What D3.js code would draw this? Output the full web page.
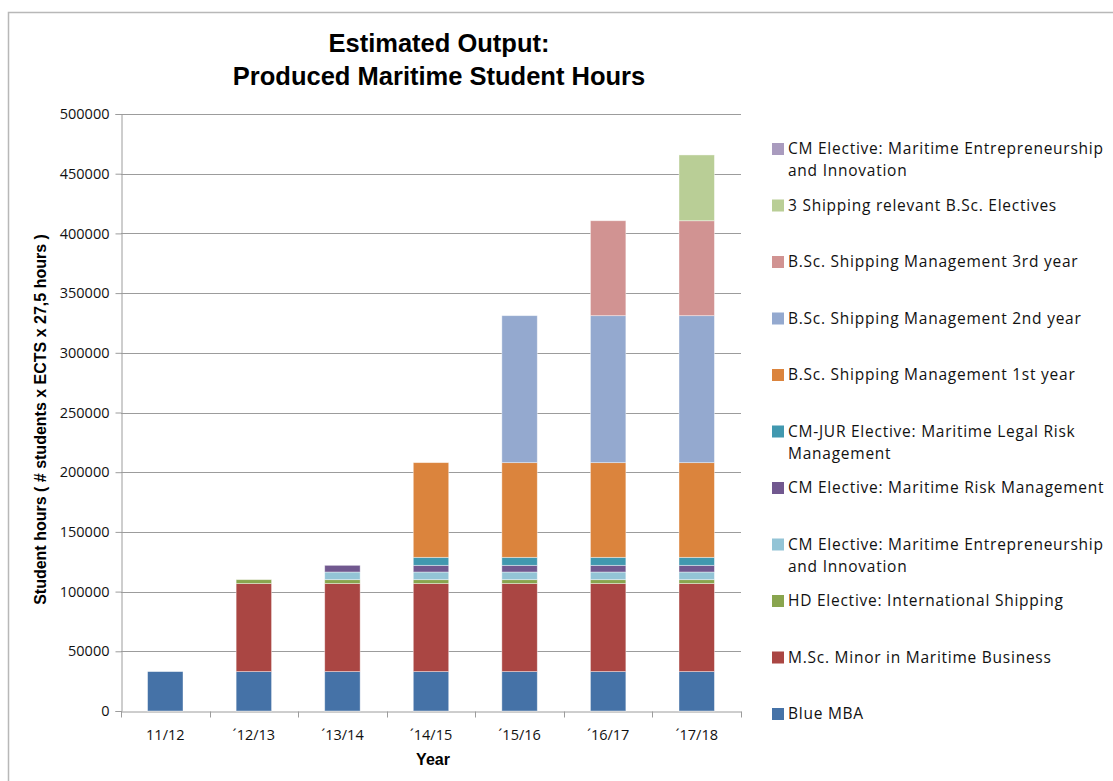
<!DOCTYPE html>
<html lang="en">
  <head>
    <meta charset="utf-8" />
    <title>Estimated Output: Produced Maritime Student Hours</title>
    <script src="https://d3js.org/d3.v7.min.js"></script>
    <style>
      body { margin: 0; background: #fff; }
    </style>
  </head>
  <body>
    <div id="root"></div>
  <script>
// data
const years = ["11/12", "\u00B412/13", "\u00B413/14", "\u00B414/15", "\u00B415/16", "\u00B416/17", "\u00B417/18"]

const blueMBA      = [33000, 33000, 33000, 33000, 33000, 33000, 33000]
const mscMinor     = [0, 73700, 73700, 73700, 73700, 73700, 73700]
const hdShipping   = [0, 3300, 3300, 3300, 3300, 3300, 3300]
const cmEntrepr    = [0, 0, 6400, 6400, 6400, 6400, 6400]
const cmRisk       = [0, 0, 5600, 5600, 5600, 5600, 5600]
const cmJurLegal   = [0, 0, 0, 6700, 6700, 6700, 6700]
const bsc1st       = [0, 0, 0, 79300, 79300, 79300, 79300]
const bsc2nd       = [0, 0, 0, 0, 123100, 123100, 123100]
const bsc3rd       = [0, 0, 0, 0, 0, 79500, 79500]
const bscElectives = [0, 0, 0, 0, 0, 0, 55100]
const cmEntrepr2   = [0, 0, 0, 0, 0, 0, 0]

const seriesNames = [
  "Blue MBA",
  "M.Sc. Minor in Maritime Business",
  "HD Elective: International Shipping",
  "CM Elective: Maritime Entrepreneurship and Innovation",
  "CM Elective: Maritime Risk Management",
  "CM-JUR Elective: Maritime Legal Risk Management",
  "B.Sc. Shipping Management 1st year",
  "B.Sc. Shipping Management 2nd year",
  "B.Sc. Shipping Management 3rd year",
  "3 Shipping relevant B.Sc. Electives",
  "CM Elective: Maritime Entrepreneurship and Innovation"
]
// legend line breaks as in the picture
const legendLines = [
  ["Blue MBA"],
  ["M.Sc. Minor in Maritime Business"],
  ["HD Elective: International Shipping"],
  ["CM Elective: Maritime Entrepreneurship", "and Innovation"],
  ["CM Elective: Maritime Risk Management"],
  ["CM-JUR Elective: Maritime Legal Risk", "Management"],
  ["B.Sc. Shipping Management 1st year"],
  ["B.Sc. Shipping Management 2nd year"],
  ["B.Sc. Shipping Management 3rd year"],
  ["3 Shipping relevant B.Sc. Electives"],
  ["CM Elective: Maritime Entrepreneurship", "and Innovation"]
]
const seriesValues = [blueMBA, mscMinor, hdShipping, cmEntrepr, cmRisk, cmJurLegal,
                      bsc1st, bsc2nd, bsc3rd, bscElectives, cmEntrepr2]
const colors = ["#4572A7", "#AA4643", "#89A54E", "#93C4D6", "#71588F", "#4198AF",
                "#DB843D", "#94A9CF", "#D19392", "#B9CE96", "#A99BBE"]
const yTicks = [0, 50000, 100000, 150000, 200000, 250000, 300000, 350000, 400000, 450000, 500000]

const width = 1113, height = 781
const margin = {left: 121, right: 372, top: 114, bottom: 70}
const font = "'Open Sans', 'DejaVu Sans', sans-serif"
const boldFont = "'Liberation Sans Narrow', 'Liberation Sans', sans-serif"

const rows = years.map((y, i) => {
  const r = {year: y}
  seriesValues.forEach((s, k) => r["s" + k] = s[i])
  return r
})
const keys = seriesValues.map((s, k) => "s" + k)

const x = d3.scaleBand()
    .domain(years)
    .range([margin.left, width - margin.right])
    .paddingInner(0.6)
    .paddingOuter(0.3)

const y = d3.scaleLinear()
    .domain([0, 500000])
    .range([height - margin.bottom, margin.top])

const stack = d3.stack().keys(keys)(rows)

const svg = d3.select("#root").append("svg")
    .attr("width", width)
    .attr("height", height)
    .attr("font-family", font)

// chart border
svg.append("rect")
    .attr("x", 8.5).attr("y", 12.5)
    .attr("width", width + 10).attr("height", height + 10)
    .attr("fill", "none")
    .attr("stroke", "#b8b8b8")
    .attr("stroke-width", 1.5)

// gridlines
svg.append("g")
  .selectAll("line")
  .data(yTicks.slice(1))
  .join("line")
    .attr("x1", margin.left).attr("x2", width - margin.right)
    .attr("y1", d => Math.round(y(d)) + 0.5).attr("y2", d => Math.round(y(d)) + 0.5)
    .attr("stroke", "#9c9c9c")

// y axis
const yAxis = svg.append("g")
    .attr("transform", `translate(${margin.left + 0.5},0)`)
    .call(d3.axisLeft(y).tickValues(yTicks).tickFormat(d3.format("d")).tickSize(6).tickPadding(6))
yAxis.select(".domain").attr("stroke", "#9c9c9c")
yAxis.selectAll(".tick line").attr("stroke", "#9c9c9c")
yAxis.selectAll("text").attr("font-size", 14.5).attr("font-family", font).attr("fill", "#111")

// x axis with boundary ticks
const xAxis = svg.append("g")
    .attr("transform", `translate(0,${height - margin.bottom + 0.5})`)
    .call(d3.axisBottom(x).tickSize(0).tickPadding(18))
xAxis.select(".domain").attr("stroke", "#9c9c9c")
xAxis.selectAll("text").attr("font-size", 14.5).attr("font-family", font).attr("fill", "#111")
const step = x.step()
xAxis.selectAll(".bound")
  .data(d3.range(years.length + 1))
  .join("line")
    .attr("x1", i => Math.round(margin.left + i * step) + 0.5)
    .attr("x2", i => Math.round(margin.left + i * step) + 0.5)
    .attr("y1", 0).attr("y2", 6)
    .attr("stroke", "#9c9c9c")

// bars
svg.append("g")
  .selectAll("g")
  .data(stack)
  .join("g")
    .attr("fill", (d, i) => colors[i])
  .selectAll("rect")
  .data(d => d.filter(p => p[1] - p[0] > 0))
  .join("rect")
    .attr("x", d => x(d.data.year))
    .attr("width", x.bandwidth())
    .attr("y", d => y(d[1]))
    .attr("height", d => y(d[0]) - y(d[1]))
    .attr("stroke", "#fff")
    .attr("stroke-opacity", 0.5)
    .attr("stroke-width", 0.8)

// titles
const title = svg.append("text")
    .attr("x", 439)
    .attr("text-anchor", "middle")
    .attr("font-family", boldFont)
    .attr("font-weight", "bold")
    .attr("font-size", 25.5)
title.append("tspan").attr("x", 439).attr("y", 52).text("Estimated Output:")
title.append("tspan").attr("x", 439).attr("y", 85).text("Produced Maritime Student Hours")

svg.append("text")
    .attr("transform", `translate(46,${(y(0) + y(500000)) / 2 + 7}) rotate(-90)`)
    .attr("text-anchor", "middle")
    .attr("font-family", boldFont)
    .attr("font-weight", "bold")
    .attr("font-size", 16)
    .text("Student hours ( # students x ECTS x 27,5 hours )")

svg.append("text")
    .attr("x", 433).attr("y", 765)
    .attr("text-anchor", "middle")
    .attr("font-family", boldFont)
    .attr("font-weight", "bold")
    .attr("font-size", 16)
    .text("Year")

// legend, last series on top
const legendOrder = d3.range(seriesNames.length).reverse()
const legend = svg.append("g")
  .selectAll("g")
  .data(legendOrder)
  .join("g")
    .attr("transform", (d, i) => `translate(772,${149 + i * 56.5})`)

legend.append("rect")
    .attr("y", -6)
    .attr("width", 12).attr("height", 12)
    .attr("fill", d => colors[d])

legend.append("text")
    .attr("x", 16)
    .attr("font-size", 15.5)
    .attr("letter-spacing", 0.75)
    .attr("fill", "#111")
  .selectAll("tspan")
  .data(d => legendLines[d])
  .join("tspan")
    .attr("x", 16)
    .attr("y", (d, j) => j * 22)
    .attr("dy", "0.35em")
    .text(d => d)
  </script>
  </body>
</html>
